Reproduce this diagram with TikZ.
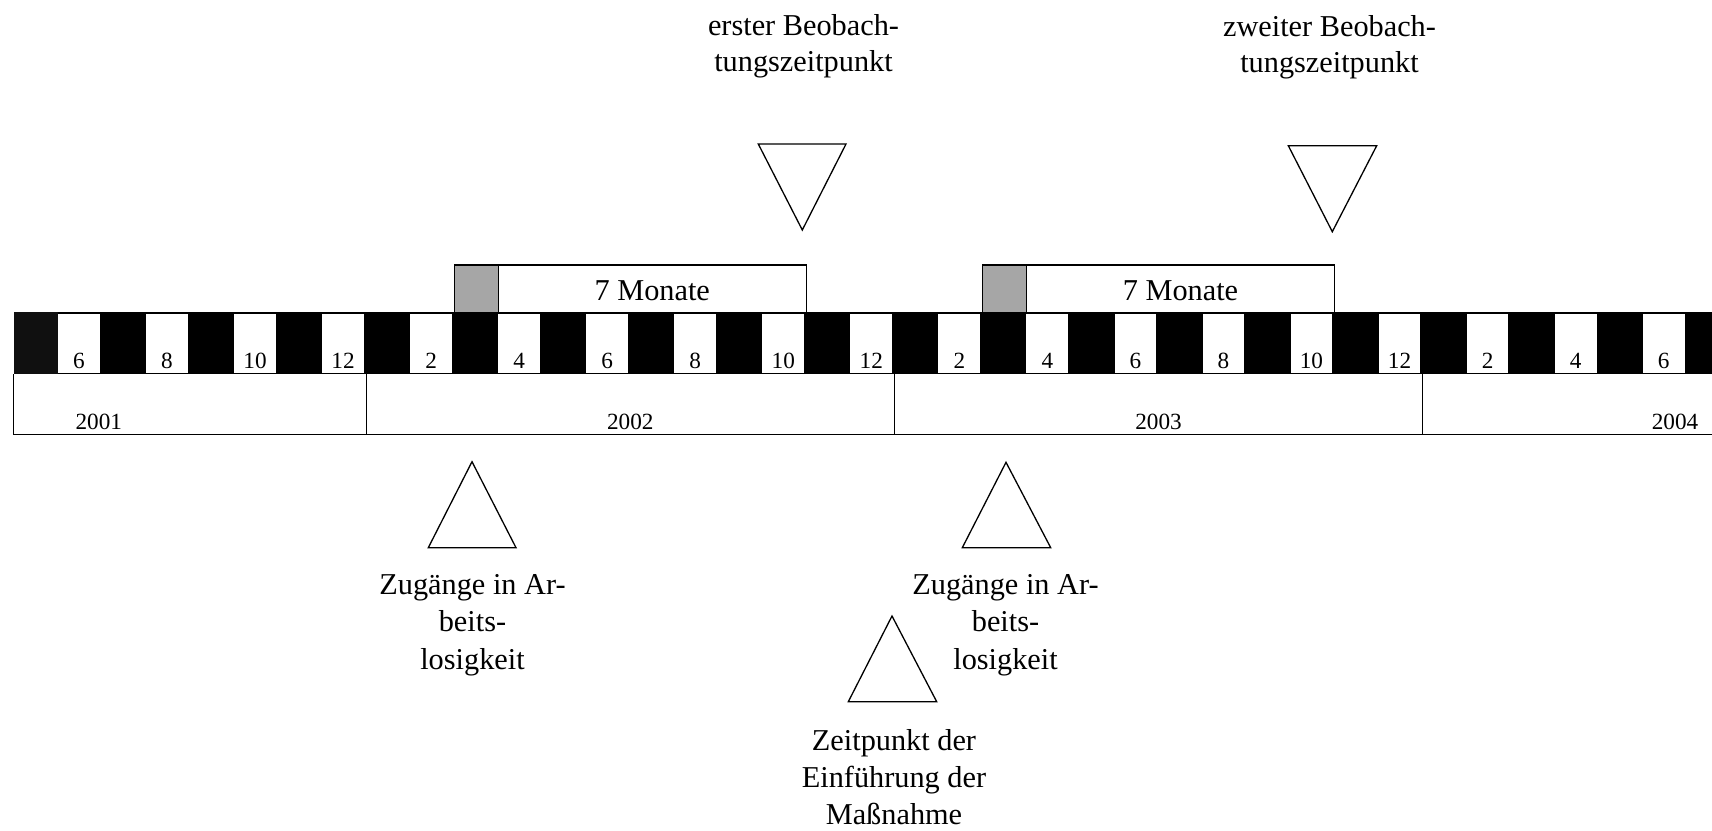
\documentclass[tikz,border=0pt]{standalone}
\usepackage{fontspec}
\setmainfont{Liberation Serif}
\definecolor{boxgray}{RGB}{166,166,166}
\definecolor{firstcell}{RGB}{16,16,16}
\newcommand{\mlines}[1]{\begin{tabular}[t]{@{}c@{}}#1\end{tabular}}
\begin{document}
\begin{tikzpicture}[x=0.5pt,y=-0.5pt,
  bigtext/.style={font=\fontsize{15.15}{18.35}\selectfont, inner sep=0pt, anchor=base},
  smalltext/.style={font=\fontsize{11.6}{14}\selectfont, inner sep=0pt, anchor=base},
  tri/.style={draw=black, fill=white, line width=0.65pt, line join=miter},
  frame/.style={draw=black, line width=0.65pt}]
\useasboundingbox (0,0) rectangle (1712,830);
\def\xo{14}
\def\mp{44.02}
% month bar
\fill[black] (13.5,312.3) rectangle (1712,374);
\fill[firstcell] (13.5,312.3) rectangle (58,374);
\foreach \k in {1,3,...,37}{
  \pgfmathtruncatemacro{\m}{mod(\k+4,12)+1}
  \fill[white] ({\xo+\k*\mp},314) rectangle ({\xo+\k*\mp+41.8},372.5);
  \node[smalltext] (m\k) at ({\xo+\k*\mp+20.9},368.3) {\m};
}
% year row
\draw[frame] (1712,434.3) -- (13.5,434.3) -- (13.5,374);
\foreach \j in {8,20,32}{
  \draw[frame] ({\xo+\j*\mp},374) -- ({\xo+\j*\mp},434.3);
}
\node[smalltext] (y2001) at (98.8,429.3) {2001};
\node[smalltext] (y2002) at (630.3,429.3) {2002};
\node[smalltext] (y2003) at (1158.5,429.3) {2003};
\node[smalltext] (y2004) at (1675,429.3) {2004};
% 7-month boxes
\draw[frame, fill=boxgray] ({\xo+10*\mp},265) rectangle ({\xo+11*\mp},312.3);
\draw[frame, fill=white] ({\xo+11*\mp},265) rectangle ({\xo+18*\mp},312.3);
\node[bigtext] (p1) at ({\xo+14.5*\mp},300.5) {7 Monate};
\draw[frame, fill=boxgray] ({\xo+22*\mp},265) rectangle ({\xo+23*\mp},312.3);
\draw[frame, fill=white] ({\xo+23*\mp},265) rectangle ({\xo+30*\mp},312.3);
\node[bigtext] (p2) at ({\xo+26.5*\mp},300.5) {7 Monate};
% triangles
\draw[tri] (758.3,144) -- (846,144) -- (802.3,230) -- cycle;
\draw[tri] (1288.3,145.7) -- (1376.7,145.7) -- (1332.3,231.7) -- cycle;
\draw[tri] (472,461.7) -- (516,547.7) -- (428.3,547.7) -- cycle;
\draw[tri] (1006,462.3) -- (1050.7,547.7) -- (962.3,547.7) -- cycle;
\draw[tri] (892,616) -- (936.7,701.7) -- (848.3,701.7) -- cycle;
% labels
\node[bigtext] (obs1) at (803.5,35) {\mlines{erster Beobach-\\tungszeitpunkt}};
\node[bigtext] (obs2) at (1329.5,36) {\mlines{zweiter Beobach-\\tungszeitpunkt}};
\node[bigtext, font=\fontsize{15.15}{18.8}\selectfont] (zug1) at (472.5,594) {\mlines{Zugänge in Ar-\\beits-\\losigkeit}};
\node[bigtext, font=\fontsize{15.15}{18.8}\selectfont] (zug2) at (1005.5,594) {\mlines{Zugänge in Ar-\\beits-\\losigkeit}};
\node[bigtext, font=\fontsize{15.15}{18.4}\selectfont] (zeit) at (894,750.5) {\mlines{Zeitpunkt der\\Einführung der\\Maßnahme}};
\end{tikzpicture}
\end{document}
